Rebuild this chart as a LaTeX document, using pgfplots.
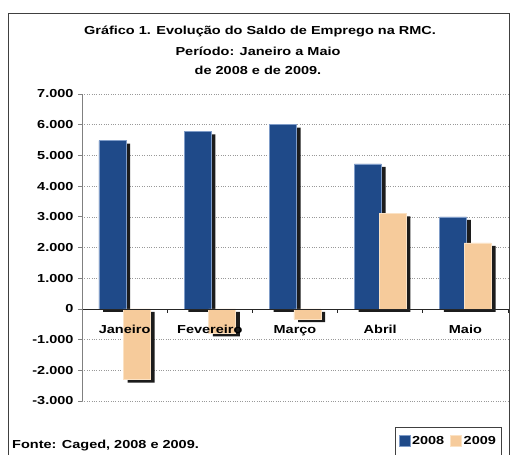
\documentclass[border=0pt]{standalone}
\usepackage{fontspec}
\setmainfont{Liberation Sans}[FakeStretch=1.25]
\usepackage{pgfplots}
\pgfplotsset{compat=1.18}
\definecolor{bl}{HTML}{1F4A89}
\definecolor{bledge}{HTML}{7F9CC8}
\definecolor{pe}{HTML}{F6CB9B}
\definecolor{peedge}{HTML}{FBE2C4}
\definecolor{shd}{HTML}{1C1C1C}
\newcommand\cf{\fontsize{11.6bp}{13.5bp}\selectfont\bfseries}
\pgfplotsset{layers/mylayers/.define layer set={axis background,axis grid,main,axis ticks,axis lines,axis tick labels,axis descriptions,axis foreground}{
  grid style={/pgfplots/on layer=axis grid},
  tick style={/pgfplots/on layer=axis ticks},
  axis line style={/pgfplots/on layer=axis lines},
  label style={/pgfplots/on layer=axis descriptions},
  legend style={/pgfplots/on layer=axis descriptions},
  title style={/pgfplots/on layer=axis descriptions},
  ticklabel style={/pgfplots/on layer=axis tick labels},
}}
\begin{document}
\begin{tikzpicture}[font=\cf]
\draw[line width=0.9bp, black!75] (8bp,-475bp) -- (8bp,-13bp) -- (509.5bp,-13bp) -- (509.5bp,-475bp);
\node at (260bp,-31.7bp) {Gráfico 1. Evolução do Saldo de Emprego na RMC.};
\node at (258bp,-51bp) {Período: Janeiro a Maio};
\node at (258bp,-70bp) {de 2008 e de 2009.};
\node[anchor=west, inner sep=0pt] at (12bp,-446bp) {Fonte: Caged, 2008 e 2009.};
\begin{axis}[
  at={(82bp,-401bp)}, anchor=south west,
  width=426bp, height=307bp, scale only axis,
  set layers=mylayers,
  xmin=-0.5, xmax=4.5, ymin=-3000, ymax=7000,
  axis x line=middle, axis y line=left,
  axis line style={-},
  x axis line style={black!85, line width=0.8bp},
  y axis line style={black!50, line width=0.8bp},
  xtick={-0.5,0.5,1.5,2.5,3.5,4.5}, xticklabels={},
  extra x ticks={0,1,2,3,4},
  extra x tick labels={Janeiro,Fevereiro,Março,Abril,Maio},
  extra x tick style={major tick length=0pt, xticklabel style={yshift=-13bp}},
  xtick align=outside, ytick align=outside,
  major tick length=4bp,
  x tick style={black!85, line width=0.8bp},
  y tick style={black!50, line width=0.8bp},
  ytick={-3000,-2000,...,7000},
  tick label style={font=\cf},
  yticklabel style={xshift=-1bp},
  /pgf/number format/assume math mode=true,
  /pgf/number format/1000 sep={.},
  ymajorgrids, major grid style={dotted, black!40, line width=0.6bp},
  ybar, bar width=27bp,
  legend style={at={(axis description cs:0.735,-0.0847)}, anchor=north west,
    draw=black!75, line width=0.8bp, legend columns=2, inner xsep=3bp, inner ysep=7bp,
    font=\cf, /tikz/every even column/.append style={column sep=4bp}},
  legend image code/.code={\fill[#1] (0bp,-5.5bp) rectangle (11bp,5.5bp);},
]
\addplot[fill=shd, draw=none, bar shift=-8bp, yshift=-3bp, forget plot]
  coordinates {(0,5480) (1,5780) (2,6000) (3,4720) (4,3000)};
\addplot[fill=shd, draw=none, bar shift=16.6bp, yshift=-3bp, forget plot]
  coordinates {(0,-2300) (1,-800) (2,-330) (3,3110) (4,2150)};
\addplot[fill=bl, draw=bledge, line width=0.5bp, bar shift=-12.3bp]
  coordinates {(0,5480) (1,5780) (2,6000) (3,4720) (4,3000)};
\addplot[fill=pe, draw=peedge, line width=0.5bp, bar shift=12.3bp]
  coordinates {(0,-2300) (1,-800) (2,-330) (3,3110) (4,2150)};
\legend{2008,2009}
\end{axis}
\pgfresetboundingbox
\path[use as bounding box] (0,0) rectangle (511bp,-455bp);
\end{tikzpicture}
\end{document}
